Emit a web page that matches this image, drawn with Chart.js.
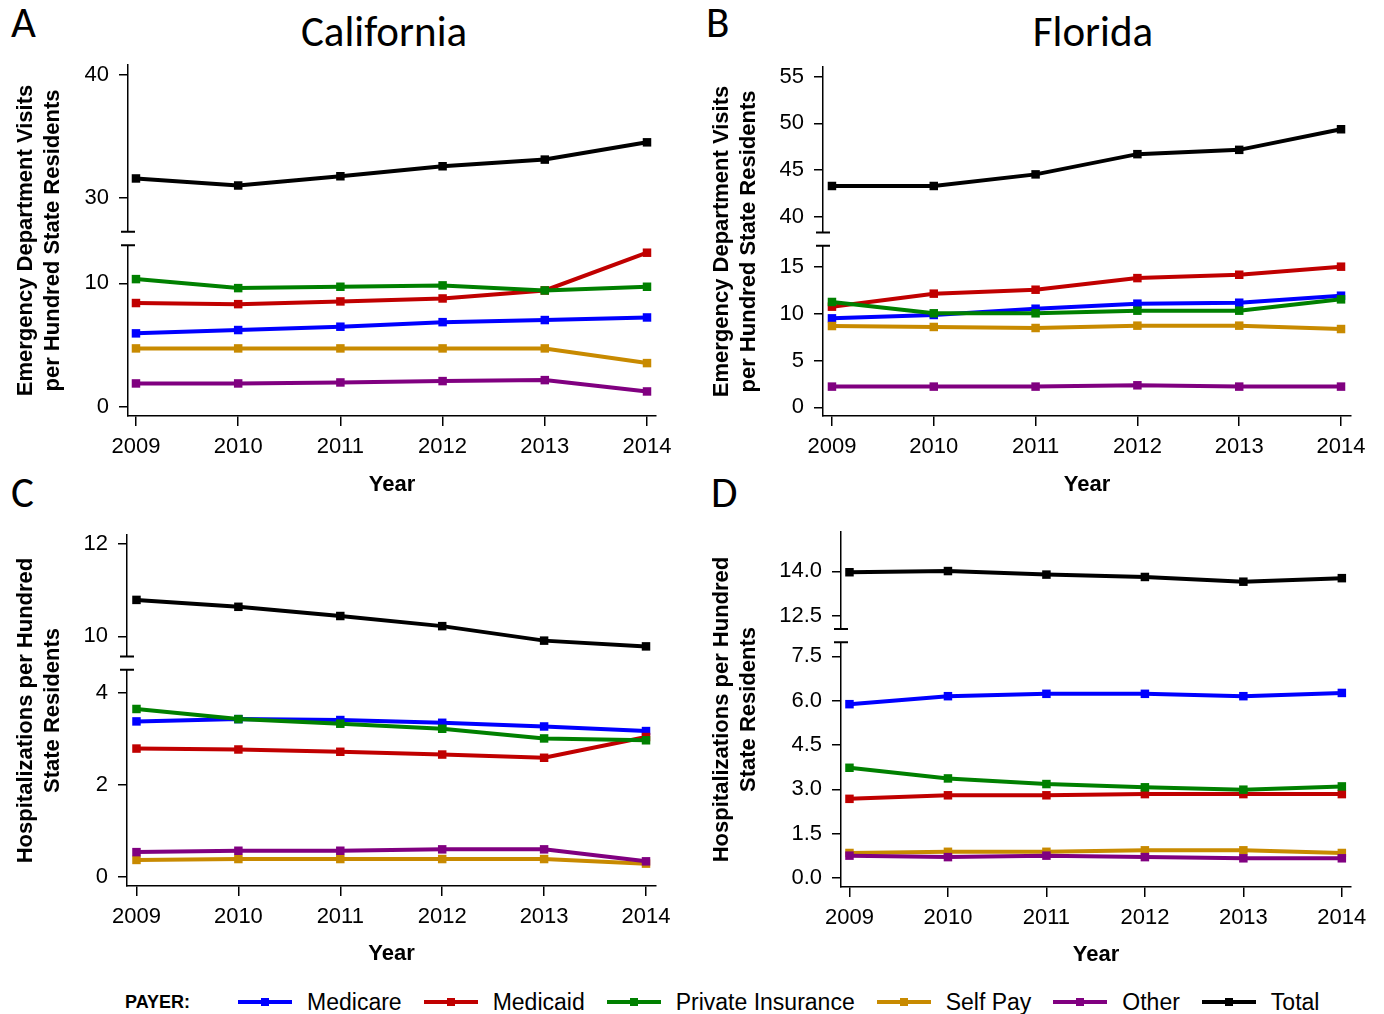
<!DOCTYPE html>
<html><head><meta charset="utf-8">
<script src="https://cdn.jsdelivr.net/npm/chart.js@4.4.1/dist/chart.umd.min.js"></script>
<style>
html,body{margin:0;padding:0;background:#fff;width:1384px;height:1014px;overflow:hidden;position:relative;font-family:"Liberation Sans",Arial,sans-serif;color:#000;}
canvas{position:absolute;}
.big{position:absolute;font-family:Carlito,Lato,"Open Sans",sans-serif;font-size:43px;line-height:1;white-space:nowrap;}
.ttl{text-align:center;width:400px;}
#legend{position:absolute;left:125px;top:987px;height:30px;display:flex;align-items:center;font-size:23px;white-space:nowrap;}
#legend .payer{font-weight:bold;font-size:18px;margin-right:48px;}
#legend .sw{display:inline-block;width:54px;height:4px;position:relative;margin-right:15px;}
#legend .sw i{position:absolute;left:23px;top:-2px;width:8px;height:8px;}
#legend .it{display:flex;align-items:center;margin-right:22px;}
</style></head>
<body>
<div class="big" style="left:11px;top:1px">A</div>
<div class="big ttl" style="left:184px;top:10px">California</div>
<div class="big" style="left:706px;top:1px">B</div>
<div class="big ttl" style="left:893px;top:10px">Florida</div>
<div class="big" style="left:11px;top:471px">C</div>
<div class="big" style="left:711px;top:471px">D</div>

<canvas id="cA" width="692" height="459" style="left:0px;top:41px"></canvas>
<canvas id="cB" width="684" height="457" style="left:700px;top:43px"></canvas>
<canvas id="cC" width="692" height="464" style="left:0px;top:511px"></canvas>
<canvas id="cD" width="684" height="467" style="left:700px;top:508px"></canvas>
<div id="legend"></div>

<script>
// ---- data ----
const years = [2009, 2010, 2011, 2012, 2013, 2014];
const payers = ["Medicare", "Medicaid", "Private Insurance", "Self Pay", "Other", "Total"];
const payerColors = ["#0000FF", "#C00000", "#008000", "#C88A00", "#800080", "#000000"];

// A: California, ED visits per hundred residents
const caEdMedicare = [5.95, 6.22, 6.49, 6.86, 7.03, 7.24];
const caEdMedicaid = [8.41, 8.32, 8.54, 8.78, 9.43, 12.49];
const caEdPrivate  = [10.35, 9.62, 9.73, 9.84, 9.43, 9.73];
const caEdSelfPay  = [4.73, 4.73, 4.73, 4.73, 4.73, 3.54];
const caEdOther    = [1.89, 1.89, 1.97, 2.08, 2.16, 1.24];
const caEdTotal    = [31.57, 31.0, 31.75, 32.56, 33.1, 34.5];

// B: Florida, ED visits per hundred residents
const flEdMedicare = [9.5, 9.86, 10.53, 11.07, 11.17, 11.92];
const flEdMedicaid = [10.75, 12.14, 12.56, 13.8, 14.16, 15.02];
const flEdPrivate  = [11.25, 10.04, 10.04, 10.32, 10.32, 11.53];
const flEdSelfPay  = [8.68, 8.58, 8.47, 8.72, 8.72, 8.36];
const flEdOther    = [2.21, 2.21, 2.21, 2.35, 2.21, 2.21];
const flEdTotal    = [43.3, 43.3, 44.54, 46.7, 47.16, 49.36];

// C: California, hospitalizations per hundred residents
const caHospMedicare = [3.38, 3.43, 3.41, 3.35, 3.27, 3.17];
const caHospMedicaid = [2.79, 2.77, 2.72, 2.66, 2.59, 3.04];
const caHospPrivate  = [3.65, 3.43, 3.33, 3.22, 3.01, 2.97];
const caHospSelfPay  = [0.37, 0.39, 0.39, 0.39, 0.39, 0.29];
const caHospOther    = [0.54, 0.57, 0.57, 0.60, 0.60, 0.34];
const caHospTotal    = [10.79, 10.64, 10.44, 10.22, 9.905, 9.78];

// D: Florida, hospitalizations per hundred residents
const flHospMedicare = [5.88, 6.15, 6.23, 6.23, 6.15, 6.26];
const flHospMedicaid = [2.68, 2.80, 2.80, 2.84, 2.84, 2.84];
const flHospPrivate  = [3.73, 3.37, 3.18, 3.07, 2.99, 3.10];
const flHospSelfPay  = [0.85, 0.89, 0.89, 0.94, 0.94, 0.85];
const flHospOther    = [0.76, 0.71, 0.76, 0.71, 0.67, 0.67];
const flHospTotal    = [13.97, 14.01, 13.89, 13.81, 13.65, 13.77];

// tick labels (values on the y axes)
const ticksA = [0, 10, 30, 40];
const ticksB = [0, 5, 10, 15, 40, 45, 50, 55];
const ticksC = [0, 2, 4, 10, 12];
const ticksD = [0, 1.5, 3, 4.5, 6, 7.5, 12.5, 14];

const edTitle = ["Emergency Department Visits", "per Hundred State Residents"];
const hospTitle = ["Hospitalizations per Hundred", "State Residents"];

// ---- drawing ----
Chart.defaults.font.family = "'Liberation Sans', Arial, sans-serif";
Chart.defaults.color = "#000";

const breakPlugin = {
  id: 'axisBreak',
  afterDraw(chart, args, opts) {
    if (opts.lowMax === undefined) return;
    const ys = chart.scales.y, ctx = chart.ctx;
    const x0 = chart.chartArea.left;
    const yLow = ys.getPixelForValue(opts.lowMax);
    const yHigh = ys.getPixelForValue(opts.lowMax + opts.gap);
    ctx.save();
    ctx.fillStyle = '#fff';
    ctx.fillRect(x0 - 2, yHigh, 4, yLow - yHigh);
    ctx.strokeStyle = '#000';
    ctx.lineWidth = 2;
    ctx.beginPath();
    ctx.moveTo(x0 - 7, yLow); ctx.lineTo(x0 + 7, yLow);
    ctx.moveTo(x0 - 7, yHigh); ctx.lineTo(x0 + 7, yHigh);
    ctx.stroke();
    ctx.restore();
  }
};

function makePanel(id, cfg) {
  const tr = v => v <= cfg.lowMax ? v : v - cfg.highMin + cfg.lowMax + cfg.gap;
  const datasets = payers.map((p, i) => ({
    label: p,
    data: years.map((yr, j) => ({ x: yr, y: tr(cfg.series[i][j]) })),
    borderColor: payerColors[i],
    backgroundColor: payerColors[i],
    pointBackgroundColor: payerColors[i],
    borderWidth: 4,
    pointStyle: 'rect',
    pointRadius: 6,
    pointBorderWidth: 0,
    tension: 0,
    order: payers.length - i
  }));
  const tickFont = { family: "'Liberation Sans', Arial, sans-serif", size: 22 };
  const titleFont = { family: "'Liberation Sans', Arial, sans-serif", size: 22, weight: 'bold' };
  new Chart(document.getElementById(id), {
    type: 'line',
    data: { datasets },
    plugins: [breakPlugin],
    options: {
      responsive: false,
      animation: false,
      events: [],
      layout: { padding: { top: cfg.padTop, right: cfg.padRight, left: 0, bottom: 0 } },
      plugins: {
        legend: { display: false },
        tooltip: { enabled: false },
        axisBreak: { lowMax: cfg.lowMax, gap: cfg.gap }
      },
      scales: {
        x: {
          type: 'linear',
          min: cfg.xMin, max: cfg.xMax,
          afterBuildTicks: s => { s.ticks = years.map(v => ({ value: v })); },
          afterFit: s => { s.height = cfg.xH; },
          ticks: { callback: v => String(v), font: tickFont, color: '#000', padding: 8, maxRotation: 0, autoSkip: false },
          grid: { drawOnChartArea: false, drawTicks: true, tickLength: 10, color: '#000', lineWidth: 1.5 },
          border: { display: true, color: '#000', width: 1.5 },
          title: { display: true, text: 'Year', font: titleFont, color: '#000', padding: { top: 0, bottom: cfg.xTitlePad } }
        },
        y: {
          type: 'linear',
          min: cfg.yMin, max: cfg.yMax,
          afterBuildTicks: s => { s.ticks = cfg.yTicks.map(v => ({ value: tr(v) })); },
          afterFit: s => { s.width = cfg.yW; },
          ticks: { callback: (v, i) => cfg.yTickText[i], font: tickFont, color: '#000', padding: 10, autoSkip: false },
          grid: { drawOnChartArea: false, drawTicks: true, tickLength: 9, color: '#000', lineWidth: 1.5 },
          border: { display: true, color: '#000', width: 1.5 },
          title: { display: true, text: cfg.yTitle, font: titleFont, color: '#000', padding: { top: cfg.yTitlePad, bottom: 0 } }
        }
      }
    }
  });
}

makePanel('cA', {
  series: [caEdMedicare, caEdMedicaid, caEdPrivate, caEdSelfPay, caEdOther, caEdTotal],
  lowMax: 13.1, highMin: 27.25, gap: 1.09,
  yMin: -0.75, yMax: 27.71,
  yTicks: ticksA, yTickText: ticksA.map(String),
  xMin: 2008.922, xMax: 2014.088,
  padTop: 24, padRight: 36, yW: 128, xH: 84, xTitlePad: 2, yTitlePad: 13,
  yTitle: edTitle
});
makePanel('cB', {
  series: [flEdMedicare, flEdMedicaid, flEdPrivate, flEdSelfPay, flEdOther, flEdTotal],
  lowMax: 17.25, highMin: 38.34, gap: 1.43,
  yMin: -0.93, yMax: 36.35,
  yTicks: ticksB, yTickText: ticksB.map(String),
  xMin: 2008.912, xMax: 2014.098,
  padTop: 24, padRight: 33, yW: 123, xH: 84, xTitlePad: 2, yTitlePad: 9,
  yTitle: edTitle
});
makePanel('cC', {
  series: [caHospMedicare, caHospMedicaid, caHospPrivate, caHospSelfPay, caHospOther, caHospTotal],
  lowMax: 4.5, highMin: 9.56, gap: 0.29,
  yMin: -0.196, yMax: 7.43,
  yTicks: ticksC, yTickText: ticksC.map(String),
  xMin: 2008.907, xMax: 2014.098,
  padTop: 24, padRight: 36, yW: 127, xH: 89, xTitlePad: 8, yTitlePad: 13,
  yTitle: hospTitle
});
makePanel('cD', {
  series: [flHospMedicare, flHospMedicaid, flHospPrivate, flHospSelfPay, flHospOther, flHospTotal],
  lowMax: 7.97, highMin: 12.05, gap: 0.45,
  yMin: -0.30, yMax: 11.7,
  yTicks: ticksD, yTickText: ticksD.map(v => v.toFixed(1)),
  xMin: 2008.914, xMax: 2014.093,
  padTop: 24, padRight: 33, yW: 141, xH: 88, xTitlePad: 7, yTitlePad: 9,
  yTitle: hospTitle
});

// legend
const leg = document.getElementById('legend');
leg.innerHTML = '<span class="payer">PAYER:</span>' + payers.map((p, i) =>
  '<span class="it"><span class="sw" style="background:' + payerColors[i] + '"><i style="background:' + payerColors[i] + '"></i></span><span>' + p + '</span></span>'
).join('');
</script>
</body></html>
